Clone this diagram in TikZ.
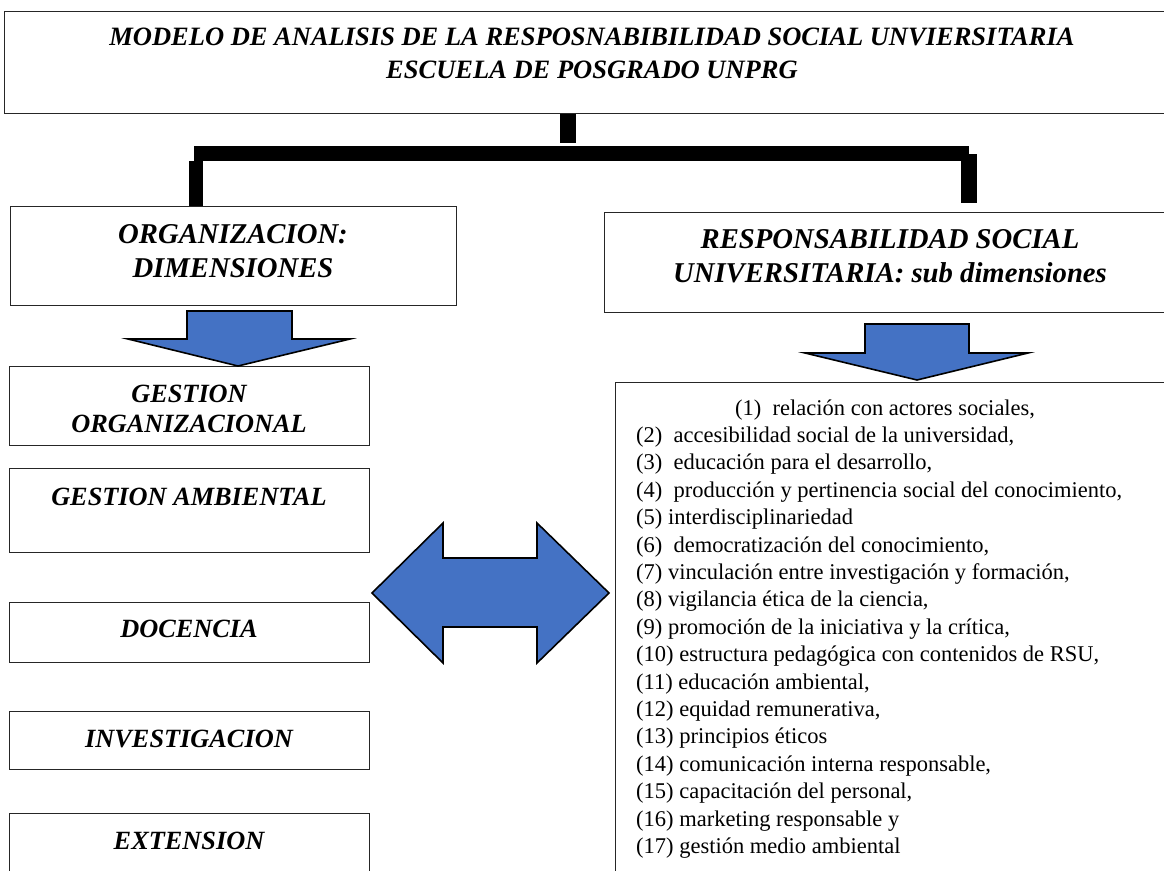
\documentclass[tikz,border=0pt]{standalone}
\usepackage{fontspec}
\setmainfont{Liberation Serif}
\usetikzlibrary{positioning, calc}
\definecolor{rsublue}{HTML}{4472C4}
\definecolor{rsuedge}{HTML}{262626}

\begin{document}
\begin{tikzpicture}[x=1pt, y=-1pt,
          caja/.style={draw=rsuedge, line width=1.2pt, fill=white, inner sep=0pt, anchor=north west},
          tit/.style={font=\fontsize{26.5}{33}\selectfont\bfseries\itshape, anchor=base, inner sep=0pt},
          cab/.style={font=\fontsize{28.7}{34}\selectfont\bfseries\itshape, anchor=base, inner sep=0pt},
          dim/.style={font=\fontsize{26.3}{30}\selectfont\bfseries\itshape, anchor=base, inner sep=0pt},
          item/.style={font=\fontsize{22.5}{27}\selectfont, anchor=base west, inner sep=0pt},
          barra/.style={line cap=butt, draw=black},
          flecha/.style={draw=black, line width=1.6pt, fill=rsublue, line join=miter}]
        \fill[white] (0,0) rectangle (1164,870);
        \useasboundingbox (0,0) rectangle (1164,870);
        % boxes
        \node[caja, minimum width=1176, minimum height=102] (titulo) at (4,11) {};
        \node[caja, minimum width=446, minimum height=99] (org) at (10,206) {};
        \node[caja, minimum width=572, minimum height=100] (rsu) at (604,212) {};
        \node[caja, minimum width=360, minimum height=79] (go) at (9,366) {};
        \node[caja, minimum width=360, minimum height=84] (ga) at (9,468) {};
        \node[caja, minimum width=360, minimum height=60] (doc) at (9,602) {};
        \node[caja, minimum width=360, minimum height=58] (inv) at (9,711) {};
        \node[caja, minimum width=360, minimum height=80] (ext) at (9,813) {};
        \node[caja, minimum width=570, minimum height=520] (lista) at (615,382) {};
        % texts
        \node[tit] (t1) at (592,45) {MODELO DE ANALISIS DE LA RESPOSNABIBILIDAD SOCIAL UNVIERSITARIA};
        \node[tit] (t2) at (592,78) {ESCUELA DE POSGRADO UNPRG};
        \node[cab] (o1) at (233,243) {ORGANIZACION:};
        \node[cab] (o2) at (233,277) {DIMENSIONES};
        \node[cab] (r1) at (890,248) {RESPONSABILIDAD SOCIAL};
        \node[cab] (r2) at (890,282) {UNIVERSITARIA: sub dimensiones};
        \node[dim] (go1) at (189,402) {GESTION};
        \node[dim] (go2) at (189,432) {ORGANIZACIONAL};
        \node[dim] (ga1) at (189,505) {GESTION AMBIENTAL};
        \node[dim] (doc1) at (189,637) {DOCENCIA};
        \node[dim] (inv1) at (189,747) {INVESTIGACION};
        \node[dim] (ext1) at (189,849) {EXTENSION};
        \node[item] (l1) at (735,415) {(1)\ \ relación con actores sociales,};
        \foreach \t [count=\i from 2] in {
            {(2)\ \ accesibilidad social de la universidad,},
            {(3)\ \ educación para el desarrollo,},
            {(4)\ \ producción y pertinencia social del conocimiento,},
            {(5) interdisciplinariedad},
            {(6)\ \ democratización del conocimiento,},
            {(7) vinculación entre investigación y formación,},
            {(8) vigilancia ética de la ciencia,},
            {(9) promoción de la iniciativa y la crítica,},
            {(10) estructura pedagógica con contenidos de RSU,},
            {(11) educación ambiental,},
            {(12) equidad remunerativa,},
            {(13) principios éticos},
            {(14) comunicación interna responsable,},
            {(15) capacitación del personal,},
            {(16) marketing responsable y},
            {(17) gestión medio ambiental}}
          \node[item] (l\i) at (636,{415+27.4*(\i-1)}) {\t};
        % connectors
        \coordinate (tallo) at (568,143);
        \coordinate (hizq) at (194,153.5);
        \coordinate (hder) at (969,153.5);
        \coordinate (bizq) at (195.5,161);
        \coordinate (bder) at (969,154);
        \draw[barra, line width=16pt] (titulo.south -| tallo) -- (tallo);
        \draw[barra, line width=15pt] (hizq) -- (hder);
        \draw[barra, line width=14pt] (bizq) -- (bizq |- org.north);
        \draw[barra, line width=16pt] (bder) -- ++(0,49);
        % arrows
        \draw[flecha] (187,311) -- (292,311) -- (292,339) -- (350,339) -- (238,366)
          -- (128,339) -- (187,339) -- cycle;
        \draw[flecha] (865,324) -- (969,324) -- (969,353) -- (1028,353) -- (917,380)
          -- (805,353) -- (865,353) -- cycle;
        \draw[flecha] (372,593) -- (443,523) -- (443,558) -- (537,558) -- (537,523)
          -- (609,593) -- (537,663) -- (537,627) -- (443,627) -- (443,663) -- cycle;
      \end{tikzpicture}
\end{document}
